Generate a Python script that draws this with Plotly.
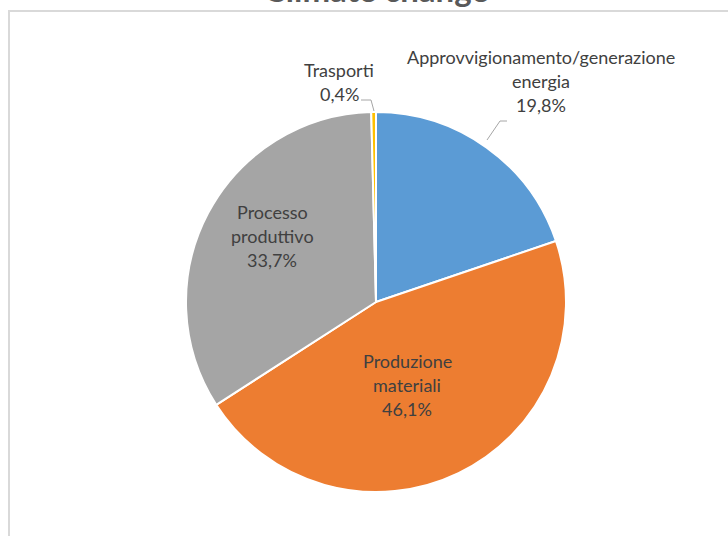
import plotly.graph_objects as go

W, H = 728, 536

# data
categories = ["Approvvigionamento/generazione energia", "Produzione materiali",
              "Processo produttivo", "Trasporti"]
label_lines = [["Approvvigionamento/generazione", "energia"],
               ["Produzione", "materiali"],
               ["Processo", "produttivo"],
               ["Trasporti"]]
shares = [19.8, 46.1, 33.7, 0.4]
colors = ["#5B9BD5", "#ED7D31", "#A5A5A5", "#FFC000"]
title = "Climate change"

# label anchor (centre x, first line y) in pixels
label_pos = [(541, 57), (407, 361), (272, 212), (339, 70)]
line_gap = 24
FONT = "Lato"


def px(x):
    return x / W


def py(y):
    return 1 - y / H


fig = go.Figure()
fig.add_trace(go.Pie(
    labels=categories,
    values=shares,
    marker=dict(colors=colors, line=dict(color="white", width=2)),
    sort=False,
    direction="clockwise",
    rotation=0,
    textinfo="none",
    hoverinfo="label+percent",
    domain=dict(x=[px(186), px(566)], y=[py(492), py(112)]),
    showlegend=False,
))

annotations = []
for lines, val, (cx, cy) in zip(label_lines, shares, label_pos):
    pct = f"{val:.1f}".replace(".", ",") + "%"
    for i, t in enumerate(lines + [pct]):
        annotations.append(dict(
            x=px(cx), y=py(cy + i * line_gap), xref="paper", yref="paper",
            text=t, showarrow=False, xanchor="center", yanchor="middle",
            font=dict(family=FONT, size=18, color="#404040")))

# title, mostly cut by the top edge like in the original
annotations.append(dict(
    x=px(376), y=py(-11), xref="paper", yref="paper", text="<b>" + title + "</b>",
    showarrow=False, xanchor="center", yanchor="middle",
    font=dict(family=FONT, size=33, color="#595959")))

shapes = [
    # chart frame
    dict(type="rect", xref="paper", yref="paper",
         x0=px(9), y0=py(560), x1=px(740), y1=py(11),
         line=dict(color="#D9D9D9", width=2), fillcolor="rgba(0,0,0,0)"),
    # leader lines
    dict(type="path", xref="paper", yref="paper",
         path=f"M {px(487)} {py(140)} L {px(500)} {py(121)} L {px(507)} {py(121)}",
         line=dict(color="#A6A6A6", width=1)),
    dict(type="path", xref="paper", yref="paper",
         path=f"M {px(374)} {py(111)} L {px(371)} {py(100)} L {px(361)} {py(100)}",
         line=dict(color="#A6A6A6", width=1)),
]

fig.update_layout(
    width=W, height=H,
    margin=dict(l=0, r=0, t=0, b=0),
    paper_bgcolor="white",
    annotations=annotations,
    shapes=shapes,
)

fig.write_html("out.html", config={"displayModeBar": False},
               post_script="document.body.style.margin='0';")
